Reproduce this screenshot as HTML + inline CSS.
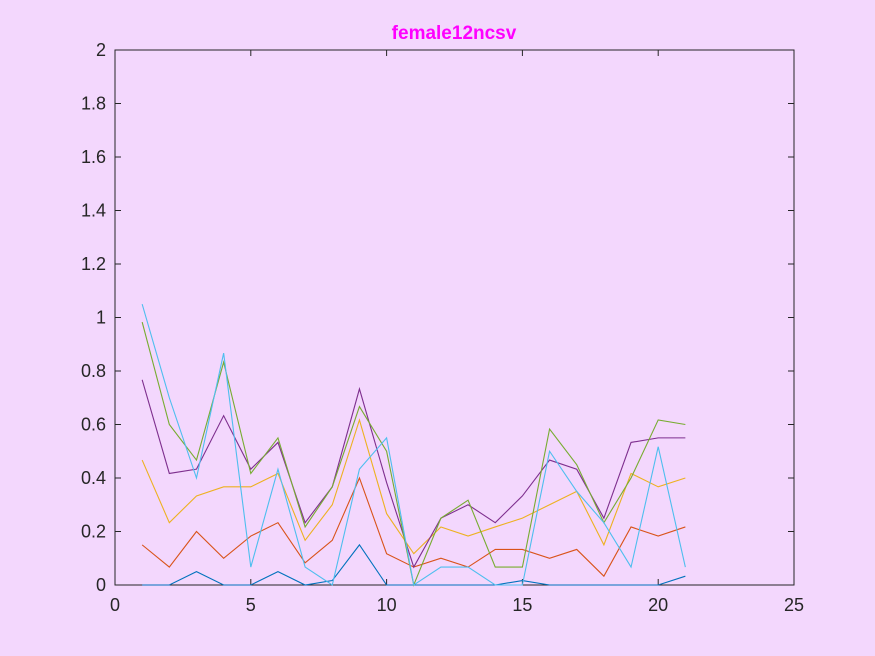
<!DOCTYPE html>
<html><head><meta charset="utf-8"><style>
body{margin:0;background:#f3d7fd;}
svg{display:block;font-family:"Liberation Sans",sans-serif;}
</style></head><body>
<svg id="chart" width="875" height="656" xmlns="http://www.w3.org/2000/svg">
<rect width="875" height="656" fill="#f3d7fd"/>
<text x="454" y="39" text-anchor="middle" font-size="19" font-weight="bold" fill="#ff00ff">female12ncsv</text>
<g id="plot"></g>
</svg>
<script>
const xTicks=[0,5,10,15,20,25];
const yTicks=[0,0.2,0.4,0.6,0.8,1,1.2,1.4,1.6,1.8,2];
const yTickLabels=["0","0.2","0.4","0.6","0.8","1","1.2","1.4","1.6","1.8","2"];
const xValues=[1,2,3,4,5,6,7,8,9,10,11,12,13,14,15,16,17,18,19,20,21];
const seriesBlue=[0,0,0.05,0,0,0.05,0,0.0167,0.15,0,0,0,0,0,0.0167,0,0,0,0,0,0.033];
const seriesRed=[0.15,0.067,0.2,0.1,0.183,0.233,0.083,0.167,0.4,0.117,0.067,0.1,0.067,0.133,0.133,0.1,0.133,0.033,0.217,0.183,0.217];
const seriesYellow=[0.467,0.233,0.333,0.367,0.367,0.417,0.167,0.3,0.617,0.267,0.117,0.217,0.183,0.217,0.25,0.3,0.35,0.15,0.417,0.367,0.4];
const seriesPurple=[0.767,0.417,0.433,0.633,0.433,0.533,0.233,0.367,0.733,0.383,0.067,0.25,0.3,0.233,0.333,0.467,0.433,0.25,0.533,0.55,0.55];
const seriesGreen=[0.983,0.6,0.467,0.833,0.417,0.55,0.217,0.367,0.667,0.5,0,0.25,0.317,0.067,0.067,0.583,0.45,0.233,0.4,0.617,0.6];
const seriesCyan=[1.05,0.7,0.4,0.867,0.067,0.433,0.067,0,0.433,0.55,0,0.067,0.067,0,0,0.5,0.35,0.233,0.067,0.517,0.067];
const series=[[seriesBlue,"#0072BD","series-1"],[seriesRed,"#D95319","series-2"],[seriesYellow,"#EDB120","series-3"],[seriesPurple,"#7E2F8E","series-4"],[seriesGreen,"#77AC30","series-5"],[seriesCyan,"#4DBEEE","series-6"]];
const L=115,R=794,T=50,B=585;
const xs=v=>L+(v-0)/25*(R-L);
const ys=v=>B-(v-0)/2*(B-T);
const NS="http://www.w3.org/2000/svg";
const g=document.getElementById("plot");
function mk(t,a){const e=document.createElementNS(NS,t);for(const k in a)e.setAttribute(k,a[k]);g.appendChild(e);return e;}
const frame=mk("rect",{x:L,y:T,width:R-L,height:B-T,fill:"none",stroke:"#262626","stroke-width":1});


xTicks.forEach(t=>{
 const x=xs(t);
 const l1=mk("line",{x1:x,x2:x,y1:B,y2:B-6,stroke:"#262626"});
 
 
 const l2=mk("line",{x1:x,x2:x,y1:T,y2:T+6,stroke:"#262626"});
 
 
 const tx=mk("text",{x:x,y:B+26,"text-anchor":"middle","font-size":18,fill:"#262626"});
 tx.textContent=t;
 
 
});
yTicks.forEach((t,i)=>{
 const y=ys(t);
 const l1=mk("line",{x1:L,x2:L+6,y1:y,y2:y,stroke:"#262626"});
 
 
 const l2=mk("line",{x1:R,x2:R-6,y1:y,y2:y,stroke:"#262626"});
 
 
 const tx=mk("text",{x:L-9,y:y+6,"text-anchor":"end","font-size":18,fill:"#262626"});
 tx.textContent=yTickLabels[i];
 
 
});
series.forEach(([vals,col,name])=>{
 const p=mk("polyline",{points:vals.map((v,i)=>xs(xValues[i])+","+ys(v)).join(" "),fill:"none",stroke:col,"stroke-width":1.1});
 
 
});
</script>
</body></html>
